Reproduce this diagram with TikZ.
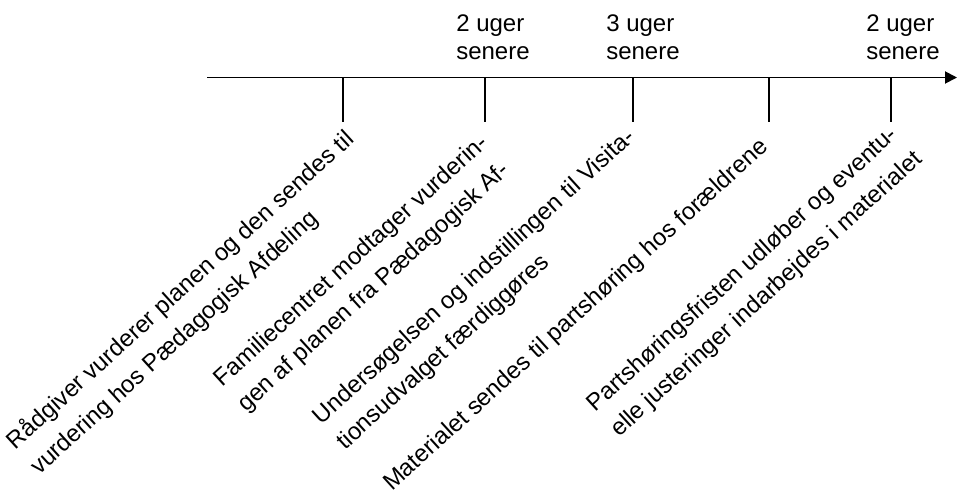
\documentclass[tikz,border=0pt]{standalone}
\usepackage{fontspec}
\setmainfont{Liberation Sans}
\usetikzlibrary{arrows.meta}

\begin{document}
\begin{tikzpicture}[x=0.75pt, y=-0.75pt]
\tikzstyle{event}=[rotate=42.3, anchor=base west, align=left, inner sep=0pt, font=\fontsize{18}{26}\selectfont]
\tikzstyle{gap}=[anchor=south west, align=left, inner sep=0pt, font=\fontsize{18}{21}\selectfont]
\tikzstyle{tickline}=[line width=1.1pt]

\useasboundingbox (0,0) rectangle (957,500);

% tidslinjen
\coordinate (begin) at (207,77.5);
\coordinate (end) at (957,77.5);
\draw[line width=1.4pt, -{Triangle[length=9pt, width=9pt]}] (begin) -- (end);

\coordinate (t1) at (343,77.5);
\coordinate (t2) at (485,77.5);
\coordinate (t3) at (633,77.5);
\coordinate (t4) at (769,77.5);
\coordinate (t5) at (891,77.5);
\draw[tickline] (t1) -- ++(0,44) coordinate (t1e);
\draw[tickline] (t2) -- ++(0,44) coordinate (t2e);
\draw[tickline] (t3) -- ++(0,44) coordinate (t3e);
\draw[tickline] (t4) -- ++(0,44) coordinate (t4e);
\draw[tickline] (t5) -- ++(0,44) coordinate (t5e);

% tid mellem trinene
\node[gap] (gap1) at (456,60) {2 uger\\senere};
\node[gap] (gap2) at (606,60) {3 uger\\senere};
\node[gap] (gap3) at (866,60) {2 uger\\senere};

% trin (base = sidste linjes grundlinje)
\node[event] (ev1) at (39,476) {Rådgiver vurderer planen og den sendes til\\vurdering hos Pædagogisk Afdeling};
\node[event] (ev2) at (246,413) {Familiecentret modtager vurderin-\\gen af planen fra Pædagogisk Af-};
\node[event] (ev3) at (345,451) {Undersøgelsen og indstillingen til Visita-\\tionsudvalget færdiggøres};
\node[event] (ev4) at (392,492) {Materialet sendes til partshøring hos forældrene};
\node[event] (ev5) at (619,438) {Partshøringsfristen udløber og eventu-\\elle justeringer indarbejdes i materialet};
\end{tikzpicture}
\end{document}
